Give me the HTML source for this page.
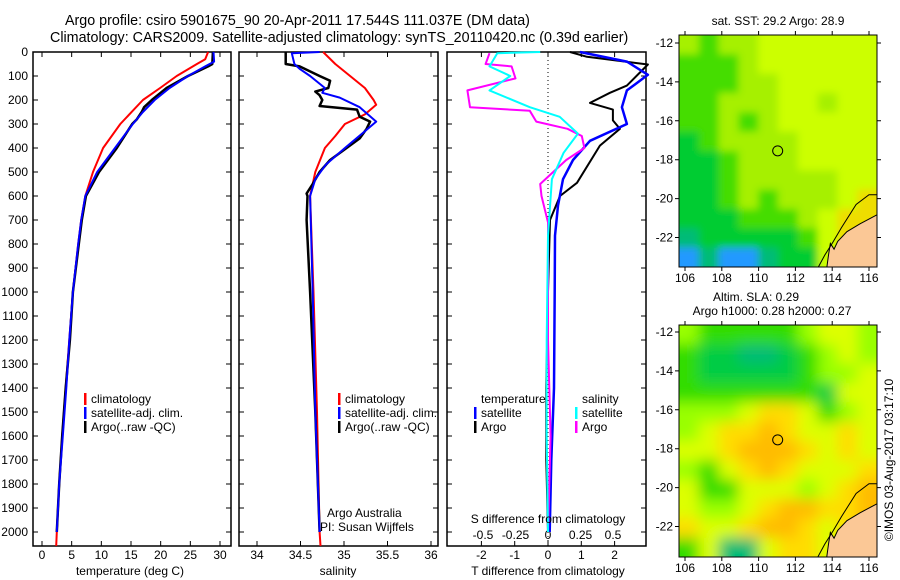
<!DOCTYPE html>
<html><head><meta charset="utf-8"><style>
body{margin:0;background:#fff;}
svg{display:block;font-family:"Liberation Sans",sans-serif;}
text{font-size:12px;fill:#000;}
</style></head><body>
<svg id="chart" width="900" height="580" viewBox="0 0 900 580" xmlns="http://www.w3.org/2000/svg">
<rect width="900" height="580" fill="#fff"/>
<text x="65" y="25" style="font-size:14.3px">Argo profile: csiro 5901675_90 20-Apr-2011 17.544S 111.037E (DM data)</text>
<text x="50" y="42" style="font-size:14.3px">Climatology: CARS2009. Satellite-adjusted climatology: synTS_20110420.nc (0.39d earlier)</text>
<g id="g1"></g>
<g id="g2"></g>
<g id="g3"></g>
<g id="m1"></g>
<g id="m2"></g>
<text x="130" y="575" text-anchor="middle">temperature (deg C)</text>
<text x="338" y="575" text-anchor="middle">salinity</text>
<text x="548" y="575" text-anchor="middle">T difference from climatology</text>
<text x="548" y="523" text-anchor="middle">S difference from climatology</text>
<text x="327" y="517">Argo Australia</text>
<text x="320" y="531">PI: Susan Wijffels</text>
<text x="778" y="25" text-anchor="middle">sat. SST: 29.2 Argo: 28.9</text>
<text x="756" y="301" text-anchor="middle">Altim. SLA: 0.29</text>
<text x="772" y="315" text-anchor="middle">Argo h1000: 0.28 h2000: 0.27</text>
<text transform="translate(893,460) rotate(-90)" text-anchor="middle">©IMOS 03-Aug-2017 03:17:10</text>
</svg>
<script>
// ---- data ----
const tempDepthArgo=[0,50,60,100,150,200,230,250,280,300,400,500,600,700,800,1000,1200,1400,1600,1800,2000];
const tempArgo=[28.8,28.7,28.0,24.6,21.0,18.5,17.2,16.8,16.0,15.2,12.6,9.6,7.4,6.7,6.2,5.2,4.7,4.0,3.4,2.9,2.5];
const tempDepthClim=[0,30,50,100,150,200,300,400,500,600,700,800,1000,1200,1400,1600,1800,2000,2058];
const tempClim=[28.0,27.5,26.1,22.7,19.9,17.0,13.2,10.3,8.6,7.3,6.6,6.1,5.2,4.6,4.0,3.4,2.9,2.5,2.4];
const tempDepthSat=[0,40,60,100,150,200,250,300,400,500,600,700,800,1000,1200,1400,1600,1800,2000];
const tempSat=[28.9,29.0,27.5,24.6,21.5,19.0,17.0,15.3,12.3,9.3,7.3,6.6,6.1,5.2,4.6,4.1,3.5,2.9,2.5];
const salDepthArgo=[0,50,60,100,120,150,165,180,200,225,240,270,290,320,360,400,450,500,550,590,600,700,1000,1500,2000];
const salArgo=[34.33,34.33,34.49,34.72,34.84,34.82,34.67,34.72,34.75,34.72,35.15,35.18,35.30,35.26,35.18,35.03,34.84,34.72,34.64,34.57,34.58,34.57,34.61,34.67,34.72];
const salDepthSat=[0,5,50,70,100,150,170,190,230,290,330,400,470,530,600,1000,1500,2000];
const salSat=[34.72,34.40,34.43,34.49,34.61,34.78,34.75,34.95,35.18,35.37,35.24,35.01,34.79,34.67,34.61,34.64,34.67,34.72];
const salDepthClim=[0,50,100,150,200,220,260,300,350,400,500,600,1000,1500,2000,2058];
const salClim=[34.76,34.90,35.07,35.24,35.34,35.37,35.24,35.01,34.90,34.78,34.67,34.61,34.65,34.69,34.72,34.73];
const dTDepthArgo=[0,20,52,140,170,212,240,285,320,390,545,600,700,1000,1400,1700,2000];
const dTArgo=[0.66,1.17,3.0,2.37,1.86,1.26,1.95,1.95,2.16,1.56,0.87,0.36,0.06,0.0,-0.05,-0.05,0.0];
const dTDepthSat=[0,40,95,160,230,300,370,450,530,640,765,1000,1400,1700,2000];
const dTSat=[0.96,2.37,3.0,2.37,2.22,2.37,1.26,0.75,0.45,0.30,0.21,0.20,0.18,0.10,0.05];
const dSDepthSat=[0,5,60,100,160,230,270,340,420,530,765,1200,1600,2000];
const dSSat=[-0.06,-0.39,-0.45,-0.29,-0.45,-0.14,0.09,0.23,0.12,0.03,0.0,-0.01,-0.01,0.0];
const dSDepthArgo=[5,50,60,110,160,230,245,290,320,350,400,450,550,600,710,1200,1600,2000];
const dSArgo=[-0.45,-0.48,-0.28,-0.25,-0.62,-0.60,-0.14,-0.09,0.15,0.26,0.28,0.14,-0.06,-0.05,0.0,0.0,0.02,0.0];
const depthTicks=[0,100,200,300,400,500,600,700,800,900,1000,1100,1200,1300,1400,1500,1600,1700,1800,1900,2000];
const tempTicks=[0,5,10,15,20,25,30];
const salTicks=[34,34.5,35,35.5,36];
const tTicks=[-2,-1,0,1,2];
const sTicks=[-0.5,-0.25,0,0.25,0.5];
const sTickLabels=["-0.5","-0.25","0","0.25","0.5"];
const lonTicks=[106,108,110,112,114,116];
const latTicks=[-12,-14,-16,-18,-20,-22];
const argoLon=111.037, argoLat=-17.544;
const sstGrid=[
"LGLLYYYYYY","GGGLYYYYYY","GGGLLYYYYY","GGLLLYYLYY","GGLGLYYYYY","DGLLLLYYYY",
"DDGLLLYYYY","DDGLLLLLYY","DDGLGLLLYO","DDDGGGLYOO","TDDDDDGYOO","BTBBTDDYOO"];
const slaGrid=[
"LGGGGGLYYL","GDDTTDGLYL","GDDDDDGLLY","GGGGGGGDYY","LLLYyyYGLY","LYyyOyYYyY",
"YYyOOOyYyY","LGYyOyYYYy","YGGYYYLYyO","YLLYyOOyyO","yYYyOOyYyO","GYTTYyyYyO"];
const sstColors={Y:"#ccff00",L:"#a6f000",G:"#44dd00",D:"#00cc33",T:"#00bb77",B:"#2299ff",O:"#eedd00"};
const slaColors={O:"#ffbb00",y:"#ffdd00",Y:"#ddff00",L:"#99ff00",G:"#33dd00",D:"#00cc44",T:"#00bb77"};

// ---- helpers ----
const NS="http://www.w3.org/2000/svg";
function mk(tag,attrs,parent){const e=document.createElementNS(NS,tag);for(const k in attrs)e.setAttribute(k,attrs[k]);parent.appendChild(e);return e;}
const Y0=52,Y1=546;
const yD=d=>Y0+d*0.24;
function lin(d0,d1,r0,r1){return v=>r0+(v-d0)*(r1-r0)/(d1-d0);}
const xT=lin(0,30,42,220), xS=lin(34,36,257,431), xDT=lin(0,1,548,581.3), xDS=lin(0,1,548,678);

function panel(g,x0,x1,name){
  const b=mk('rect',{x:x0,y:Y0,width:x1-x0,height:Y1-Y0,fill:'none',stroke:'#000','stroke-width':1.5},g);
  
  depthTicks.forEach(d=>{
    const t=mk('path',{d:`M${x0},${yD(d)}h5M${x1},${yD(d)}h-5`,stroke:'#000'},g);
    
  });
}
function xticks(g,ticks,sc,labels,ly,name){
  ticks.forEach((v,i)=>{
    const x=sc(v);
    const t=mk('path',{d:`M${x},${Y0}v5M${x},${Y1}v-5`,stroke:'#000'},g);
    
    if(labels){const l=mk('text',{x:x,y:ly,'text-anchor':'middle'},g);l.textContent=labels[i];
      }
  });
}
function line(g,xs,ds,sc,col,w,name){
  const pts=xs.map((v,i)=>sc(v).toFixed(1)+','+yD(ds[i]).toFixed(1)).join(' ');
  const p=mk('polyline',{points:pts,fill:'none',stroke:col,'stroke-width':w,'stroke-linejoin':'round'},g);
  
}
function legend(g,x,y,col,txt,name){
  if(col){const b=mk('rect',{x:x,y:y-10,width:2.5,height:12,fill:col},g);
    }
  const t=mk('text',{x:x+7,y:y},g);t.textContent=txt;
  
}

// panel 1
const g1=document.getElementById('g1');
panel(g1,33,231,'temperature');
depthTicks.forEach(d=>{const l=mk('text',{x:28,y:yD(d)+4,'text-anchor':'end'},g1);l.textContent=d;
  });
xticks(g1,tempTicks,xT,tempTicks.map(String),559,'temperature');
line(g1,tempClim,tempDepthClim,xT,'#ff0000',2,'temperature-climatology-line');
line(g1,tempArgo,tempDepthArgo,xT,'#000000',2.5,'temperature-argo-line');
line(g1,tempSat,tempDepthSat,xT,'#0000ff',2,'temperature-satellite-line');
legend(g1,84,403,'#ff0000','climatology','legend-climatology');
legend(g1,84,417,'#0000ff','satellite-adj. clim.','legend-satellite');
legend(g1,84,431,'#000000','Argo(..raw -QC)','legend-argo');

// panel 2
const g2=document.getElementById('g2');
panel(g2,239,438,'salinity');
xticks(g2,salTicks,xS,salTicks.map(String),559,'salinity');
line(g2,salClim,salDepthClim,xS,'#ff0000',2,'salinity-climatology-line');
line(g2,salArgo,salDepthArgo,xS,'#000000',2.5,'salinity-argo-line');
line(g2,salSat,salDepthSat,xS,'#0000ff',2,'salinity-satellite-line');
legend(g2,338,403,'#ff0000','climatology','legend-climatology');
legend(g2,338,417,'#0000ff','satellite-adj. clim.','legend-satellite');
legend(g2,338,431,'#000000','Argo(..raw -QC)','legend-argo');

// panel 3
const g3=document.getElementById('g3');
panel(g3,447,646,'difference');
xticks(g3,tTicks,xDT,tTicks.map(String),559,'t-difference');
sTicks.forEach((v,i)=>{const l=mk('text',{x:xDS(v),y:539,'text-anchor':'middle'},g3);l.textContent=sTickLabels[i];
  });
const zl=mk('line',{x1:xDT(0),y1:Y0,x2:xDT(0),y2:Y1,stroke:'#000','stroke-dasharray':'1,3'},g3);

line(g3,dTArgo,dTDepthArgo,xDT,'#000000',2,'t-diff-argo-line');
line(g3,dTSat,dTDepthSat,xDT,'#0000ff',2.5,'t-diff-satellite-line');
line(g3,dSArgo,dSDepthArgo,xDS,'#ff00ff',2,'s-diff-argo-line');
line(g3,dSSat,dSDepthSat,xDS,'#00ffff',2,'s-diff-satellite-line');
legend(g3,474,403,null,'temperature','legend-temperature-heading');
legend(g3,474,417,'#0000ff','satellite','legend-t-satellite');
legend(g3,474,431,'#000000','Argo','legend-t-argo');
legend(g3,575,403,null,'salinity','legend-salinity-heading');
legend(g3,575,417,'#00ffff','satellite','legend-s-satellite');
legend(g3,575,431,'#ff00ff','Argo','legend-s-argo');

// maps
function map(id,top,bot,lat12,grid,cols,blur,name){
  const g=document.getElementById(id);
  const L=679,R=877;
  const xL=lin(106,116,685,869), yL=lin(-12,-22,lat12,lat12+194.5);
  const cp=mk('clipPath',{id:id+'c'},g);mk('rect',{x:L,y:top,width:R-L,height:bot-top},cp);
  if(blur){const f=mk('filter',{id:id+'f',x:'-0.1',y:'-0.1',width:'1.2',height:'1.2'},g);mk('feGaussianBlur',{stdDeviation:blur},f);}
  const inner=mk('g',{'clip-path':`url(#${id}c)`},g);
  const fg=mk('g',blur?{filter:`url(#${id}f)`}:{},inner);
  const nr=grid.length,nc=grid[0].length;
  const cw=(R-L)/nc,ch=(bot-top)/nr;
  for(let r=-1;r<=nr;r++)for(let c=-1;c<=nc;c++){
    const rr=Math.min(nr-1,Math.max(0,r)),cc=Math.min(nc-1,Math.max(0,c));
    const k=grid[rr][cc];
    const e=mk('rect',{x:L+c*cw,y:top+r*ch,width:cw+0.6,height:ch+0.6,fill:cols[k]},fg);
    
  }
  const land=[[116.5,-20.8],[115.5,-21.3],[114.8,-21.7],[114.3,-22.2],[114.1,-22.6],[113.9,-22.3],[113.8,-22.9],[113.7,-23.6],[116.5,-23.6]];
  const lp=mk('polygon',{points:land.map(p=>xL(p[0])+','+yL(p[1])).join(' '),fill:'#fbc896',stroke:'#000','stroke-width':1},inner);
  
  const shelf=[[113.2,-23.6],[113.6,-22.9],[114.0,-22.3],[114.5,-21.5],[115.3,-20.3],[116.0,-19.8],[116.5,-19.8]];
  const sp=mk('polyline',{points:shelf.map(p=>xL(p[0])+','+yL(p[1])).join(' '),fill:'none',stroke:'#000','stroke-width':1},inner);
  
  const fr=mk('rect',{x:L,y:top,width:R-L,height:bot-top,fill:'none',stroke:'#000'},g);
  
  const ci=mk('circle',{cx:xL(argoLon),cy:yL(argoLat),r:5,fill:'none',stroke:'#000'},g);
  
  lonTicks.forEach(v=>{const x=xL(v);
    const t=mk('path',{d:`M${x},${top}v-4M${x},${bot}v4`,stroke:'#000'},g);
    
    const l=mk('text',{x:x,y:bot+15,'text-anchor':'middle'},g);l.textContent=v;
    });
  latTicks.forEach(v=>{const y=yL(v);
    const t=mk('path',{d:`M${L},${y}h-4M${R},${y}h4`,stroke:'#000'},g);
    
    const l=mk('text',{x:673,y:y+4,'text-anchor':'end'},g);l.textContent=v;
    });
}
map('m1',35,267,43,sstGrid,sstColors,4,'sst-map');
map('m2',325,557,332,slaGrid,slaColors,7,'sla-map');
</script>
</body></html>
